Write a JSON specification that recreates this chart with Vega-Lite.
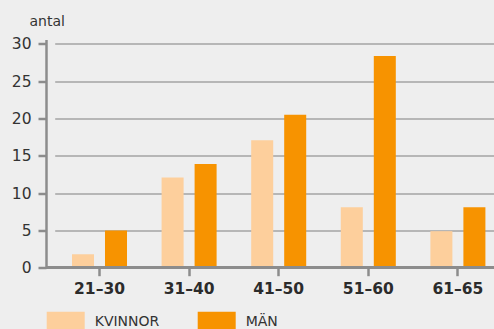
{
  "$schema": "https://vega.github.io/schema/vega-lite/v6.json",
  "autosize": {"type": "none"},
  "width": 448,
  "height": 228.2,
  "padding": {"left": 46, "top": 39.5, "right": 0, "bottom": 61.3},
  "background": "#eeeeee",
  "config": {
    "view": {"stroke": null},
    "font": "DejaVu Sans",
    "axisY": {
      "values": [0, 5, 10, 15, 20, 25, 30],
      "labelOverlap": false,
      "titleAngle": 0,
      "titleAlign": "left",
      "titleBaseline": "alphabetic",
      "titleX": -17,
      "titleY": -14.5,
      "titleFont": "DejaVu Sans",
      "titleFontSize": 14,
      "titleFontWeight": "normal",
      "titleColor": "#333333",
      "domain": true,
      "domainColor": "#8c8c8c",
      "domainWidth": 2.5,
      "grid": true,
      "gridColor": "#a3a3a3",
      "gridWidth": 1.5,
      "tickSize": 8,
      "tickWidth": 2.5,
      "tickColor": "#8c8c8c",
      "labelPadding": 7,
      "labelFont": "DejaVu Sans",
      "labelFontSize": 15.5,
      "labelColor": "#333333"
    }
  },
  "data": {
    "values": [
      {"alder": "21–30", "kon": "KVINNOR", "antal": 1.8},
      {"alder": "21–30", "kon": "MÄN", "antal": 5.0},
      {"alder": "31–40", "kon": "KVINNOR", "antal": 12.1},
      {"alder": "31–40", "kon": "MÄN", "antal": 13.9},
      {"alder": "41–50", "kon": "KVINNOR", "antal": 17.1},
      {"alder": "41–50", "kon": "MÄN", "antal": 20.5},
      {"alder": "51–60", "kon": "KVINNOR", "antal": 8.1},
      {"alder": "51–60", "kon": "MÄN", "antal": 28.4},
      {"alder": "61–65", "kon": "KVINNOR", "antal": 4.9},
      {"alder": "61–65", "kon": "MÄN", "antal": 8.1}
    ]
  },
  "layer": [
    {
      "mark": {"type": "bar"},
      "encoding": {
        "x": {
          "field": "alder",
          "type": "nominal",
          "sort": null,
          "scale": {"range": [8.7, 456.7], "paddingInner": 0, "paddingOuter": 0},
          "axis": {
            "title": null,
            "domain": false,
            "grid": false,
            "labelAngle": 0,
            "ticks": true,
            "tickSize": 8,
            "tickWidth": 2.5,
            "tickColor": "#8c8c8c",
            "labelFont": "DejaVu Sans",
            "labelFontSize": 15.5,
            "labelFontWeight": "bold",
            "labelColor": "#2b2b2b",
            "labelBaseline": "alphabetic",
            "labelPadding": 18
          }
        },
        "xOffset": {
          "field": "kon",
          "type": "nominal",
          "sort": ["KVINNOR", "MÄN"],
          "scale": {"paddingInner": 0.333, "paddingOuter": 0.524}
        },
        "y": {
          "field": "antal",
          "type": "quantitative",
          "title": "antal",
          "scale": {"domain": [0, 30.6], "nice": false},
          "axis": {"values": [0, 5, 10, 15, 20, 25, 30], "labelOverlap": false}
        },
        "color": {
          "field": "kon",
          "type": "nominal",
          "sort": ["KVINNOR", "MÄN"],
          "scale": {"domain": ["KVINNOR", "MÄN"], "range": ["#fdcf9c", "#f79300"]},
          "legend": {
            "title": null,
            "orient": "none",
            "direction": "horizontal",
            "columns": 2,
            "legendX": 0.7,
            "legendY": 263.5,
            "symbolType": "M-1,-0.55H1V0.55H-1Z",
            "symbolSize": 1444,
            "symbolStrokeWidth": 0,
            "symbolOpacity": 1,
            "labelOffset": 10,
            "labelFont": "DejaVu Sans",
            "labelFontSize": 14,
            "labelColor": "#333333",
            "columnPadding": 38
          }
        }
      }
    },
    {
      "mark": {"type": "rule", "color": "#8c8c8c", "strokeWidth": 2.5},
      "encoding": {
        "y": {
          "datum": 0,
          "title": "antal",
          "axis": {"values": [0, 5, 10, 15, 20, 25, 30], "labelOverlap": false}
        }
      }
    }
  ]
}
